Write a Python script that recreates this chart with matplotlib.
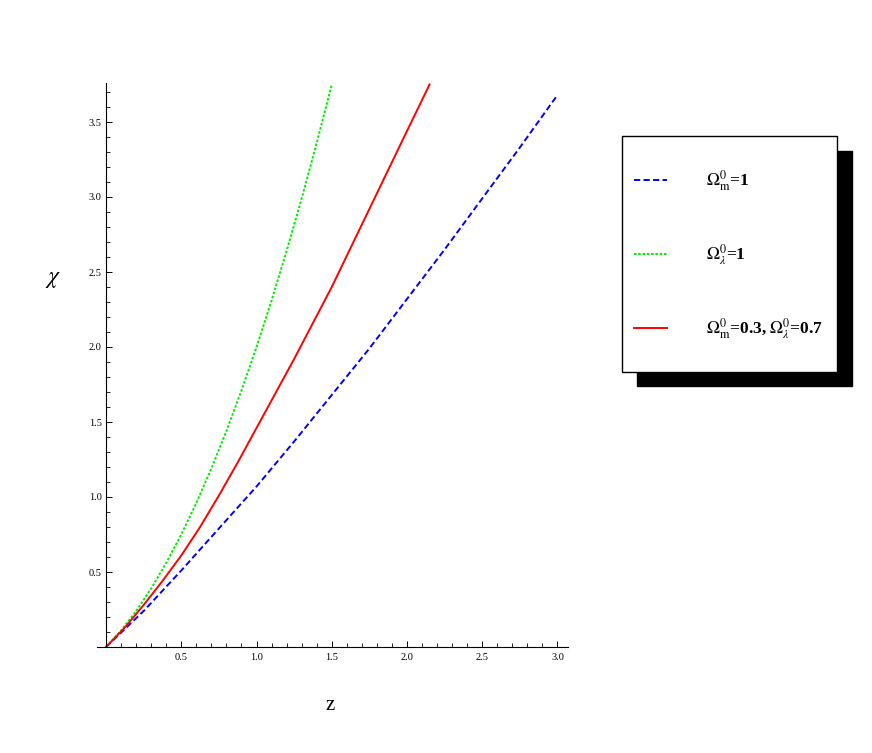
import matplotlib
matplotlib.use("Agg")
import matplotlib.pyplot as plt
from matplotlib.patches import Rectangle
from matplotlib.lines import Line2D
from matplotlib.ticker import FixedLocator, MultipleLocator

# values
z_matter = [0, 0.25, 0.5, 0.75, 1.0, 1.25, 1.5, 1.75, 2.0, 2.25, 2.5, 2.75, 3.0]
chi_matter = [0, 0.24, 0.51, 0.79, 1.07, 1.37, 1.68, 1.99, 2.32, 2.65, 2.99, 3.33, 3.68]

z_lambda = [0, 0.1, 0.2, 0.3, 0.4, 0.5, 0.6, 0.7, 0.8, 0.9, 1.0, 1.1, 1.2, 1.3, 1.4, 1.5]
chi_lambda = [0, 0.11, 0.24, 0.39, 0.56, 0.75, 0.96, 1.19, 1.44, 1.71, 2.0, 2.31, 2.64, 2.99, 3.36, 3.75]

z_mixed = [0, 0.125, 0.25, 0.375, 0.5, 0.625, 0.75, 0.875, 1.0, 1.125, 1.25,
           1.375, 1.5, 1.625, 1.75, 1.875, 2.0, 2.15]
chi_mixed = [0, 0.13, 0.28, 0.44, 0.61, 0.80, 1.01, 1.23, 1.46, 1.69, 1.92,
             2.16, 2.40, 2.66, 2.92, 3.18, 3.44, 3.75]

labels = [r"$\Omega_{\mathrm{m}}^{0}$=1",
          r"$\Omega_{\lambda}^{0}$=1",
          r"$\Omega_{\mathrm{m}}^{0}$=0.3, $\Omega_{\lambda}^{0}$=0.7"]
x_major = [0.5, 1.0, 1.5, 2.0, 2.5, 3.0]
y_major = [0.5, 1.0, 1.5, 2.0, 2.5, 3.0, 3.5]

W, H = 872, 753
plt.rcParams["mathtext.fontset"] = "stix"
plt.rcParams["font.family"] = ["Liberation Serif", "DejaVu Serif"]


def px(x, y):
    # pixel position (from top-left) to figure fraction
    return x / W, 1 - y / H


fig = plt.figure(figsize=(W / 100, H / 100), dpi=100)
ax = fig.add_axes([97 / W, (H - 647) / H, 471 / W, 564 / H])

styles = [
    dict(color="#0000ff", lw=1.4, dashes=(3.2, 1.7)),
    dict(color="#00ee00", lw=1.4, dashes=(1.3, 0.9)),
    dict(color="#ff0000", lw=1.4),
]
ax.plot(z_matter, chi_matter, **styles[0])
ax.plot(z_lambda, chi_lambda, **styles[1])
ax.plot(z_mixed, chi_mixed, **styles[2])

ax.set_xlim(-0.06, 3.07)
ax.set_ylim(0, 3.76)
ax.spines["left"].set_position(("data", 0))
ax.spines["bottom"].set_position(("data", 0))
ax.spines["top"].set_visible(False)
ax.spines["right"].set_visible(False)
for s in ("left", "bottom"):
    ax.spines[s].set_linewidth(0.8)

ax.xaxis.set_major_locator(FixedLocator(x_major))
ax.yaxis.set_major_locator(FixedLocator(y_major))
ax.xaxis.set_minor_locator(MultipleLocator(0.1))
ax.yaxis.set_minor_locator(MultipleLocator(0.1))
ax.set_xticklabels([f"{v:.1f}" for v in x_major])
ax.set_yticklabels([f"{v:.1f}" for v in y_major])
ax.tick_params(which="major", direction="in", length=4.5, width=0.7, labelsize=7.5, pad=4)
ax.tick_params(which="minor", direction="in", length=3, width=0.6)
ax.tick_params(axis="y", pad=3)

fig.text(*px(330, 706), "z", fontsize=15, ha="center", va="center")
fig.text(*px(53, 280), r"$\chi$", fontsize=17, ha="center", va="center")

# legend box with a hard black shadow
x0, y0 = px(637, 386)
fig.add_artist(Rectangle((x0, y0), 215 / W, 235 / H, transform=fig.transFigure,
                         facecolor="black", edgecolor="black"))
x0, y0 = px(622, 372)
fig.add_artist(Rectangle((x0, y0), 215 / W, 236 / H, transform=fig.transFigure,
                         facecolor="white", edgecolor="black", lw=1))

rows = [180, 254, 328]
for yy, st, lab in zip(rows, styles, labels):
    xa, ya = px(634, yy)
    xb, _ = px(667, yy)
    fig.add_artist(Line2D([xa, xb], [ya, ya], transform=fig.transFigure, **st))
    fig.text(*px(706, yy + 6), lab, fontsize=12.5, fontweight="bold",
             ha="left", va="baseline")

fig.savefig("out.png", dpi=100)
